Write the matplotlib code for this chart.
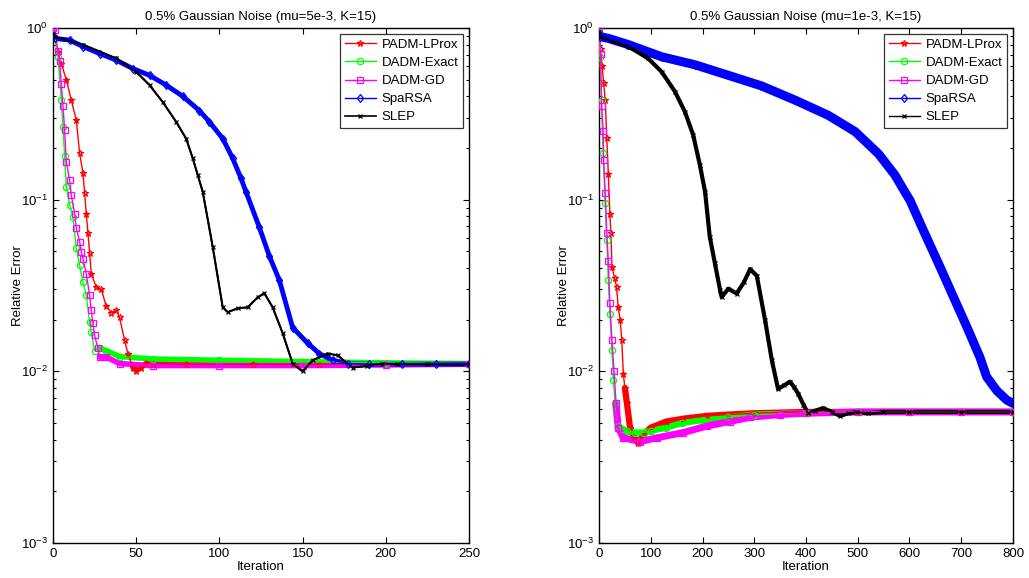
import matplotlib
matplotlib.use("Agg")
import matplotlib.pyplot as plt
from matplotlib.ticker import LogLocator, NullFormatter, FixedLocator

plt.rcParams['font.family'] = ['Liberation Sans', 'DejaVu Sans']
plt.rcParams['mathtext.fontset'] = 'custom'
plt.rcParams['mathtext.rm'] = 'Liberation Sans'

labels = ["PADM-LProx", "DADM-Exact", "DADM-GD", "SpaRSA", "SLEP"]
titles = ["0.5% Gaussian Noise (mu=5e-3, K=15)", "0.5% Gaussian Noise (mu=1e-3, K=15)"]
xlims = [250, 800]
xticks_left = [0, 50, 100, 150, 200, 250]
xticks_right = [0, 100, 200, 300, 400, 500, 600, 700, 800]

# ---------------- left panel (mu=5e-3) ----------------
padm_x_L = [0, 3, 5, 8, 11, 14, 16, 18, 19, 20, 21, 22, 23, 26, 29, 32, 35, 38, 40, 43, 45, 48, 50, 53, 56, 60, 80, 120, 160, 200, 250]
padm_y_L = [0.92, 0.72, 0.62, 0.50, 0.38, 0.29, 0.187, 0.143, 0.109, 0.083, 0.064, 0.049, 0.037, 0.031, 0.030, 0.024, 0.022, 0.0227, 0.0206, 0.0152, 0.0127, 0.0105, 0.0101, 0.0105, 0.0112, 0.0111, 0.0110, 0.0110, 0.0110, 0.0110, 0.0110]

exact_x_L = [0, 3, 5, 6, 7, 8, 10, 12, 14, 16, 18, 20, 22, 23, 25, 28, 32, 40, 60, 100, 150, 200, 250]
exact_y_L = [1.0, 0.68, 0.38, 0.265, 0.18, 0.119, 0.093, 0.079, 0.052, 0.0415, 0.033, 0.0277, 0.0194, 0.0169, 0.0132, 0.0136, 0.0132, 0.0122, 0.0118, 0.0116, 0.0114, 0.0112, 0.0111]

gd_x_L = [0, 1, 3, 4, 5, 6, 7, 8, 10, 11, 13, 14, 16, 17, 18, 20, 22, 23, 24, 25, 27, 28, 32, 40, 60, 100, 150, 200, 250]
gd_y_L = [1.0, 0.98, 0.73, 0.64, 0.47, 0.35, 0.254, 0.166, 0.130, 0.106, 0.083, 0.068, 0.057, 0.0496, 0.0454, 0.0371, 0.0277, 0.0227, 0.019, 0.0162, 0.0136, 0.0121, 0.0121, 0.0111, 0.0108, 0.0108, 0.0108, 0.0109, 0.0110]

sparsa_x_L = [0, 1, 10, 18, 28, 38, 48, 58, 68, 78, 88, 94, 102, 108, 113, 116, 124, 130, 136, 144, 153, 160, 168, 177, 190, 210, 230, 250]
sparsa_y_L = [0.90, 0.87, 0.85, 0.78, 0.71, 0.65, 0.58, 0.53, 0.465, 0.40, 0.33, 0.284, 0.227, 0.174, 0.133, 0.111, 0.069, 0.047, 0.034, 0.018, 0.0146, 0.0127, 0.0116, 0.0111, 0.0110, 0.0110, 0.0110, 0.0110]

slep_x_L = [0, 1, 18, 38, 50, 58, 66, 74, 80, 84, 87, 90, 96, 102, 105, 111, 117, 123, 127, 132, 138, 144, 150, 156, 165, 171, 180, 189, 198, 207, 225, 250]
slep_y_L = [0.92, 0.89, 0.80, 0.665, 0.556, 0.465, 0.37, 0.284, 0.227, 0.174, 0.139, 0.111, 0.053, 0.0236, 0.0221, 0.0233, 0.0236, 0.027, 0.0285, 0.0236, 0.0167, 0.0111, 0.0100, 0.0116, 0.0127, 0.0124, 0.0105, 0.0108, 0.0111, 0.0110, 0.0110, 0.0110]

# ---------------- right panel (mu=1e-3) ----------------
padm_x_R = [0, 3, 6, 9, 12, 15, 18, 21, 23, 25, 30, 34, 37, 41, 44, 47, 50, 54, 60, 68, 76, 86, 100, 130, 163, 208, 250, 300, 400, 500, 600, 700, 800]
padm_y_R = [0.92, 0.75, 0.60, 0.48, 0.38, 0.23, 0.142, 0.083, 0.064, 0.0406, 0.035, 0.031, 0.0238, 0.0199, 0.0152, 0.0097, 0.0080, 0.0065, 0.0047, 0.0041, 0.0038, 0.0043, 0.0047, 0.0051, 0.0053, 0.0055, 0.0056, 0.0057, 0.0058, 0.0058, 0.0058, 0.0058, 0.0058]

exact_x_R = [0, 2, 5, 8, 12, 15, 18, 21, 25, 28, 31, 37, 45, 54, 70, 86, 100, 130, 160, 200, 250, 300, 400, 500, 600, 700, 800]
exact_y_R = [1.0, 0.68, 0.38, 0.187, 0.095, 0.058, 0.034, 0.0217, 0.0133, 0.0089, 0.0065, 0.0048, 0.0046, 0.0045, 0.0044, 0.0044, 0.0045, 0.0047, 0.0050, 0.0052, 0.0054, 0.0056, 0.0057, 0.0058, 0.0058, 0.0058, 0.0058]

gd_x_R = [0, 3, 5, 8, 9, 12, 15, 18, 21, 25, 29, 33, 37, 47, 79, 112, 163, 208, 253, 292, 350, 400, 500, 600, 700, 800]
gd_y_R = [1.0, 0.71, 0.35, 0.25, 0.17, 0.109, 0.064, 0.044, 0.025, 0.0152, 0.0101, 0.0065, 0.0047, 0.0041, 0.0039, 0.0041, 0.0044, 0.0048, 0.0051, 0.0054, 0.0056, 0.0057, 0.0058, 0.0058, 0.0058, 0.0058]

sparsa_x_R = [0, 2, 18, 57, 121, 186, 250, 314, 379, 443, 495, 540, 572, 591, 601, 627, 659, 685, 711, 736, 749, 769, 788, 800]
sparsa_y_R = [0.92, 0.89, 0.87, 0.80, 0.68, 0.61, 0.53, 0.46, 0.38, 0.31, 0.249, 0.185, 0.139, 0.111, 0.099, 0.066, 0.0406, 0.0271, 0.0181, 0.0121, 0.0093, 0.0077, 0.0068, 0.0065]

slep_x_R = [0, 2, 57, 95, 121, 147, 166, 182, 195, 205, 214, 224, 234, 237, 250, 266, 280, 292, 305, 321, 334, 346, 358, 369, 377, 385, 395, 404, 418, 433, 450, 466, 482, 498, 520, 549, 600, 700, 800]
slep_y_R = [0.95, 0.89, 0.78, 0.665, 0.556, 0.425, 0.325, 0.238, 0.159, 0.111, 0.061, 0.0425, 0.0297, 0.0271, 0.0303, 0.0284, 0.033, 0.0394, 0.036, 0.0198, 0.0116, 0.0079, 0.0083, 0.0087, 0.0081, 0.0074, 0.0064, 0.0057, 0.0059, 0.0061, 0.0058, 0.0055, 0.0057, 0.0058, 0.0057, 0.0058, 0.0058, 0.0058, 0.0058]

colors = ['#ff0000', '#00ff00', '#ff00ff', '#0000ff', '#000000']
markers = ['*', 'o', 's', 'd', 'x']

fig = plt.figure(figsize=(10.29, 5.78), dpi=100)
ax_L = fig.add_axes([53/1029, 35/578, 416/1029, 515/578])
ax_R = fig.add_axes([599/1029, 35/578, 414/1029, 515/578])

# style: base line width, and (start index, width) of the dense-marker band
panels = [
    (ax_L, [(padm_x_L, padm_y_L), (exact_x_L, exact_y_L), (gd_x_L, gd_y_L), (sparsa_x_L, sparsa_y_L), (slep_x_L, slep_y_L)],
     [1.0, 1.0, 1.0, 1.0, 1.2], [(21, 3.5), (15, 4.0), (21, 4.0), (0, 3.5), (0, 1.5)], xticks_left),
    (ax_R, [(padm_x_R, padm_y_R), (exact_x_R, exact_y_R), (gd_x_R, gd_y_R), (sparsa_x_R, sparsa_y_R), (slep_x_R, slep_y_R)],
     [1.0, 1.0, 1.0, 1.0, 1.0], [(16, 4.5), (10, 4.5), (11, 5.0), (0, 6.5), (0, 3.0)], xticks_right),
]

for i, (ax, series, lws, bands, xt) in enumerate(panels):
    for (x, y), c, m, lab, lw, (k, bw) in zip(series, colors, markers, labels, lws, bands):
        ax.plot(x[k:], y[k:], color=c, lw=bw, solid_joinstyle='round', solid_capstyle='round', zorder=2)
        ax.plot(x, y, color=c, lw=lw, marker=m, ms=4.5 if m != 'x' else 3.5,
                mfc='none', mew=0.9, label=lab, zorder=3)
    ax.set_yscale('log')
    ax.set_ylim(1e-3, 1)
    ax.set_xlim(0, xlims[i])
    ax.xaxis.set_major_locator(FixedLocator(xt))
    ax.yaxis.set_major_locator(LogLocator(base=10, numticks=10))
    ax.yaxis.set_minor_locator(LogLocator(base=10, subs=range(2, 10), numticks=10))
    ax.yaxis.set_minor_formatter(NullFormatter())
    ax.tick_params(which='both', direction='in', top=True, right=True, labelsize=9.5, width=0.8)
    ax.tick_params(which='major', length=4)
    ax.tick_params(which='minor', length=2)
    for s in ax.spines.values():
        s.set_linewidth(1.0)
    ax.set_title(titles[i], fontsize=9.5, pad=6)
    ax.set_xlabel('Iteration', fontsize=9.5, labelpad=1)
    ax.set_ylabel('Relative Error', fontsize=9.5, labelpad=-2)
    leg = ax.legend(loc='upper right', fontsize=9.5, frameon=True, fancybox=False,
                    borderaxespad=0.45, handlelength=2.4, handletextpad=0.4,
                    borderpad=0.35, labelspacing=0.45)
    leg.get_frame().set_edgecolor('black')
    leg.get_frame().set_linewidth(0.9)

fig.savefig('out.png', dpi=100)
